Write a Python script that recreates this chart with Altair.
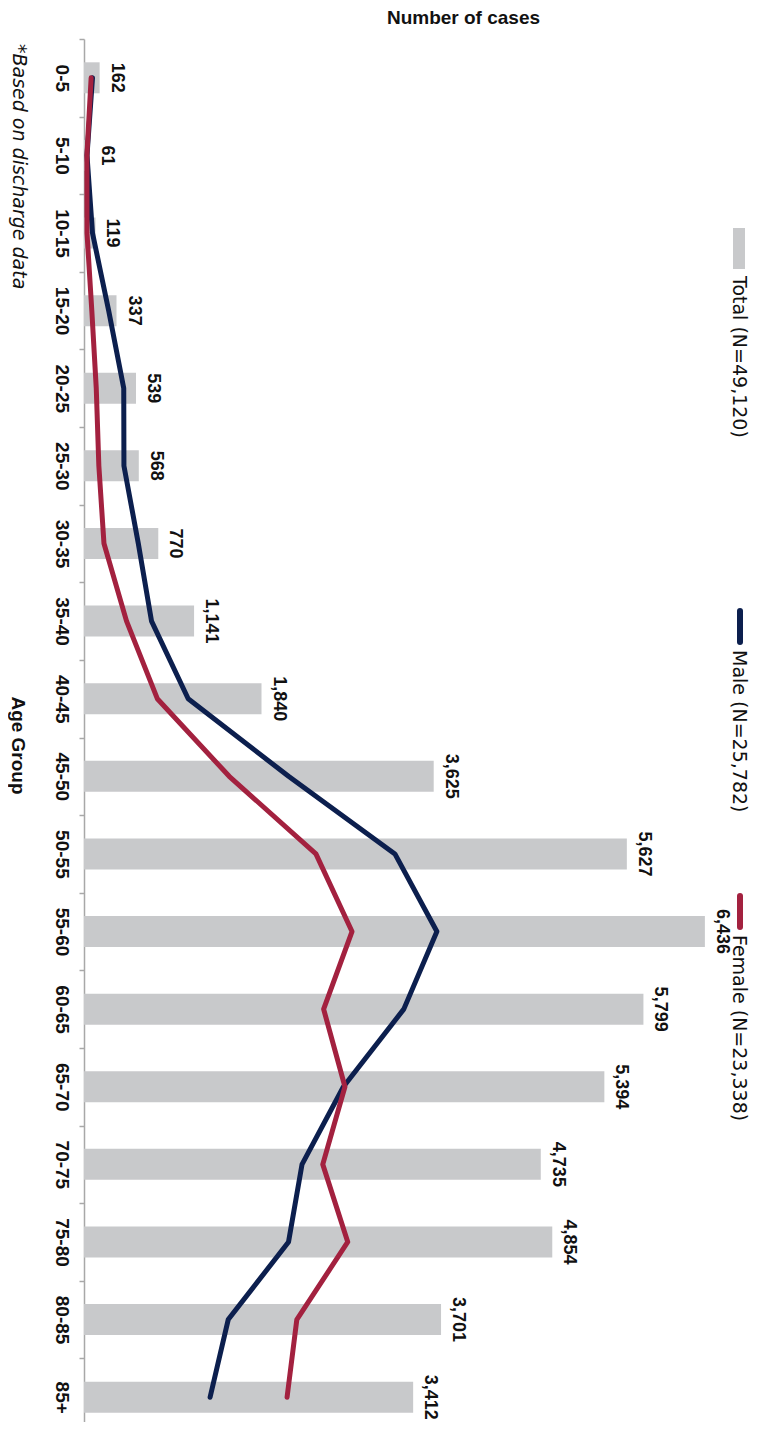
import altair as alt
import pandas as pd

# ---- data ----
ages = ["0-5", "5-10", "10-15", "15-20", "20-25", "25-30", "30-35", "35-40", "40-45",
        "45-50", "50-55", "55-60", "60-65", "65-70", "70-75", "75-80", "80-85", "85+"]
total = [162, 61, 119, 337, 539, 568, 770, 1141, 1840, 3625, 5627, 6436, 5799, 5394,
         4735, 4854, 3701, 3412]
male = [88, 31, 88, 256, 412, 414, 563, 700, 1080, 2120, 3223, 3658, 3315, 2689,
        2260, 2120, 1495, 1307]
female = [74, 30, 31, 81, 127, 154, 207, 441, 760, 1505, 2404, 2778, 2484, 2705,
          2475, 2734, 2206, 2105]
legend_labels = ["Total (N=49,120)", "Male (N=25,782)", "Female (N=23,338)"]
footnote = "*Based on discharge data"
x_title = "Number of cases"
y_title = "Age Group"

GREY = "#c8c9cb"
NAVY = "#0c1f4e"
CRIMSON = "#a3213f"
TXT = "#111111"

df = pd.DataFrame({"age": ages, "idx": list(range(len(ages))), "total": total,
                   "male": male, "female": female})
one = pd.DataFrame({"k": [0]})

x_scale = alt.Scale(domain=[0, 6800], nice=False, zero=True)
x_axis = alt.Axis(orient="top", labels=False, ticks=False, domain=False, grid=False,
                  title=x_title, titleX=379, titleY=-16, titleAngle=0,
                  titleAlign="center", titleBaseline="alphabetic",
                  titleFont="Liberation Sans", titleFontSize=19,
                  titleFontWeight="bold", titleColor=TXT)
y_axis = alt.Axis(title=y_title, titleAngle=90, titleAlign="center", titleBaseline="top",
                  titleX=-58, titleY=706, titleFont="Liberation Sans", titleFontSize=19,
                  titleFontWeight="bold", titleColor=TXT,
                  labelAngle=90, labelAlign="center", labelBaseline="top", labelPadding=9,
                  labelFont="Liberation Sans", labelFontSize=19, labelFontWeight="bold",
                  labelColor=TXT, labelOverlap=False,
                  tickBand="extent", tickSize=5, tickWidth=1.5, tickColor="#a8a8a8",
                  domainColor="#a8a8a8", domainWidth=1.5, grid=False)
y_enc = alt.Y("age:N", sort=ages,
              scale=alt.Scale(domain=ages, paddingInner=0, paddingOuter=0), axis=y_axis)

base = alt.Chart(df)

bars = base.mark_bar(color=GREY, size=31).encode(
    y=y_enc, x=alt.X("total:Q", scale=x_scale, axis=x_axis))

values = base.mark_text(angle=90, align="center", baseline="alphabetic", dy=-12,
                        font="Liberation Sans", fontSize=18, fontWeight="bold",
                        color=TXT).encode(
    y=y_enc, x=alt.X("total:Q", scale=x_scale, axis=x_axis),
    text=alt.Text("total:Q", format=","))

male_line = base.mark_line(color=NAVY, strokeWidth=5, strokeCap="round",
                           strokeJoin="round").encode(
    y=y_enc, x=alt.X("male:Q", scale=x_scale, axis=x_axis), order="idx:Q")

female_line = base.mark_line(color=CRIMSON, strokeWidth=5, strokeCap="round",
                             strokeJoin="round").encode(
    y=y_enc, x=alt.X("female:Q", scale=x_scale, axis=x_axis), order="idx:Q")

# ---- hand-made rotated legend ----
leg = alt.Chart(one)
sw_total = leg.mark_rect(color=GREY).encode(
    x=alt.value(649), x2=alt.value(661), y=alt.value(189), y2=alt.value(230))
sw_male = leg.mark_rule(color=NAVY, strokeWidth=6, strokeCap="round").encode(
    x=alt.value(656), y=alt.value(572), y2=alt.value(603))
sw_female = leg.mark_rule(color=CRIMSON, strokeWidth=6, strokeCap="round").encode(
    x=alt.value(656), y=alt.value(857), y2=alt.value(888))

def leg_text(label, ypos):
    return leg.mark_text(text=label, angle=90, align="left", baseline="alphabetic",
                         font="DejaVu Sans", fontSize=19, color=TXT).encode(
        x=alt.value(649), y=alt.value(ypos))

t_total = leg_text(legend_labels[0], 237)
t_male = leg_text(legend_labels[1], 611)
t_female = leg_text(legend_labels[2], 896)

note = leg.mark_text(text=footnote, angle=90, align="left", baseline="alphabetic",
                     font="DejaVu Sans", fontStyle="italic", fontSize=19,
                     color=TXT).encode(x=alt.value(-71), y=alt.value(5))

chart = alt.layer(
    bars, values, male_line, female_line,
    sw_total, sw_male, sw_female, t_total, t_male, t_female, note
).properties(
    width=656, height=1397,
    autosize=alt.AutoSizeParams(type="none"),
    padding={"left": 76, "top": 31, "right": 15, "bottom": -14},
    background="white",
).configure_view(stroke=None)

chart.save("out.html", embed_options={"renderer": "svg", "actions": False})
